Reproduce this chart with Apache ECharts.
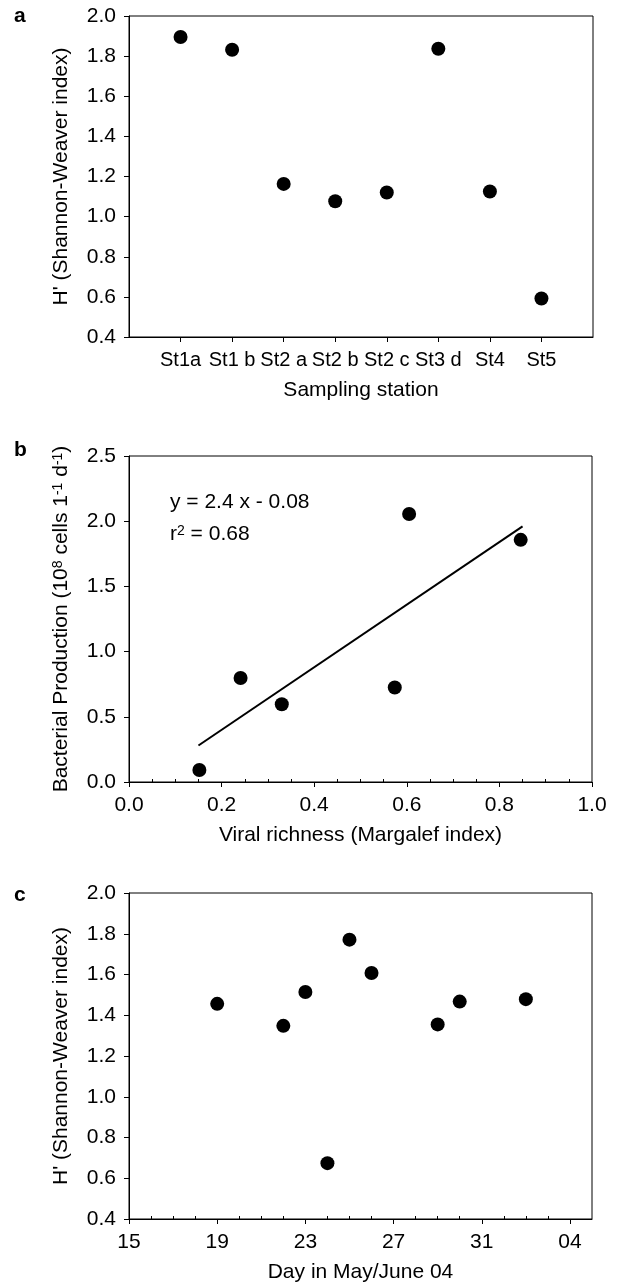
<!DOCTYPE html>
<html><head><meta charset="utf-8">
<script src="https://cdn.jsdelivr.net/npm/echarts@6/dist/echarts.min.js"></script>
<style>html,body{margin:0;padding:0;background:#fff}#c{width:617px;height:1285px}</style>
</head><body><div id="c"></div>
<script>
// Panel a
const stations = ['St1a', 'St1 b', 'St2 a', 'St2 b', 'St2 c', 'St3 d', 'St4', 'St5'];
const shannonStation = [1.895, 1.832, 1.163, 1.077, 1.120, 1.837, 1.125, 0.592];
// Panel b
const richness = [0.152, 0.241, 0.330, 0.574, 0.605, 0.846];
const production = [0.092, 0.798, 0.596, 0.725, 2.055, 1.857];
const fitX = [0.15, 0.85];
const fitY = [0.28, 1.96];
// Panel c
const days = [19, 22, 23, 24, 25, 26, 29, 30, 33];
const shannonDay = [1.456, 1.348, 1.514, 0.674, 1.771, 1.607, 1.355, 1.467, 1.479];
const dayTicks = [15, 19, 23, 27, 31, 35];
const dayTickLabels = ['15', '19', '23', '27', '31', '04'];

const FONT = '"Liberation Sans", Arial, Helvetica, sans-serif';
const FS = 21;
const txt = {color: '#000', fontFamily: FONT, fontSize: FS};

const stationPos = stations.map((s, i) => i + 1);
const minorB = [];
for (let k = 1; k < 20; k++) { if (k % 4) minorB.push(k * 0.05); }
const minorC = [];
for (let d = 16; d < 36; d++) { if ((d - 15) % 4) minorC.push(d); }

function baseX(gi, extra) {
  return Object.assign({
    type: 'value', gridIndex: gi, position: 'bottom',
    axisLine: {show: true, lineStyle: {color: '#000', width: 1}},
    axisTick: {show: true, length: 5, lineStyle: {color: '#000', width: 1}},
    axisLabel: Object.assign({margin: 13}, txt),
    splitLine: {show: false},
    nameLocation: 'middle', nameGap: 43, nameTextStyle: txt
  }, extra);
}
function minorX(gi, min, max, vals) {
  return {
    type: 'value', gridIndex: gi, position: 'bottom', min: min, max: max,
    axisLine: {show: false}, axisLabel: {show: false}, splitLine: {show: false},
    axisTick: {show: true, inside: true, length: 3, customValues: vals, lineStyle: {color: '#000', width: 1}}
  };
}
function baseY(gi, extra) {
  return Object.assign({
    type: 'value', gridIndex: gi,
    axisLine: {show: true, lineStyle: {color: '#000', width: 1}},
    axisTick: {show: true, length: 5, lineStyle: {color: '#000', width: 1}},
    axisLabel: Object.assign({margin: 13, formatter: v => v.toFixed(1)}, txt),
    splitLine: {show: false},
    nameLocation: 'middle', nameGap: 57, nameTextStyle: txt
  }, extra);
}
const dot = {color: '#000', opacity: 1};

const option = {
  animation: false,
  backgroundColor: '#fff',
  title: [
    {text: 'a', left: 14, top: 6, padding: 0, textStyle: Object.assign({}, txt, {fontWeight: 'bold'})},
    {text: 'b', left: 14, top: 440, padding: 0, textStyle: Object.assign({}, txt, {fontWeight: 'bold'})},
    {text: 'c', left: 14, top: 885, padding: 0, textStyle: Object.assign({}, txt, {fontWeight: 'bold'})}
  ],
  grid: [
    {left: 129, top: 16, width: 464, height: 321, show: true, borderColor: '#000', borderWidth: 1, backgroundColor: 'transparent'},
    {left: 129, top: 456, width: 463, height: 326, show: true, borderColor: '#000', borderWidth: 1, backgroundColor: 'transparent'},
    {left: 129, top: 893, width: 463, height: 326, show: true, borderColor: '#000', borderWidth: 1, backgroundColor: 'transparent'}
  ],
  xAxis: [
    baseX(0, {min: 0, max: 9, name: 'Sampling station',
      axisTick: {show: true, length: 5, customValues: stationPos, lineStyle: {color: '#000'}},
      axisLabel: Object.assign({}, txt, {fontSize: 20, margin: 13, customValues: stationPos, formatter: v => stations[Math.round(v) - 1] || ''})}),
    baseX(1, {min: 0, max: 1, interval: 0.2, name: 'Viral richness (Margalef index)',
      axisLabel: Object.assign({margin: 13, formatter: v => v.toFixed(1)}, txt)}),
    minorX(1, 0, 1, minorB),
    baseX(2, {min: 15, max: 36, name: 'Day in May/June 04',
      axisTick: {show: true, length: 5, customValues: dayTicks, lineStyle: {color: '#000'}},
      axisLabel: Object.assign({margin: 13, customValues: dayTicks, formatter: v => dayTickLabels[dayTicks.indexOf(Math.round(v))] || ''}, txt)}),
    minorX(2, 15, 36, minorC)
  ],
  yAxis: [
    baseY(0, {min: 0.4, max: 2.0, interval: 0.2, name: "H' (Shannon-Weaver index)"}),
    baseY(1, {min: 0, max: 2.5, interval: 0.5,
      name: 'Bacterial Production (10{sup|8} cells 1{sup|-1} d{sup|-1})',
      nameTextStyle: Object.assign({}, txt, {rich: {sup: {fontSize: 14, fontFamily: FONT, color: '#000', verticalAlign: 'top'}}})}),
    baseY(2, {min: 0.4, max: 2.0, interval: 0.2, name: "H' (Shannon-Weaver index)"})
  ],
  graphic: [
    {type: 'text', left: 170, top: 492, style: {text: 'y = 2.4 x - 0.08', fill: '#000', font: FS + 'px ' + FONT}},
    {type: 'text', left: 170, top: 524, style: {text: 'r{sup|2} = 0.68', fill: '#000', font: FS + 'px ' + FONT,
      rich: {sup: {fontSize: 14, fontFamily: FONT, fill: '#000', verticalAlign: 'top'}}}}
  ],
  series: [
    {type: 'scatter', xAxisIndex: 0, yAxisIndex: 0, symbolSize: 14, itemStyle: dot,
      data: stations.map((s, i) => [stationPos[i], shannonStation[i]])},
    {type: 'line', xAxisIndex: 1, yAxisIndex: 1, symbol: 'none', lineStyle: {color: '#000', width: 2},
      data: fitX.map((x, i) => [x, fitY[i]])},
    {type: 'scatter', xAxisIndex: 1, yAxisIndex: 1, symbolSize: 14, itemStyle: dot,
      data: richness.map((x, i) => [x, production[i]])},
    {type: 'scatter', xAxisIndex: 3, yAxisIndex: 2, symbolSize: 14, itemStyle: dot,
      data: days.map((d, i) => [d, shannonDay[i]])}
  ]
};
echarts.init(document.getElementById('c'), null, {renderer: 'canvas'}).setOption(option);
</script></body></html>
